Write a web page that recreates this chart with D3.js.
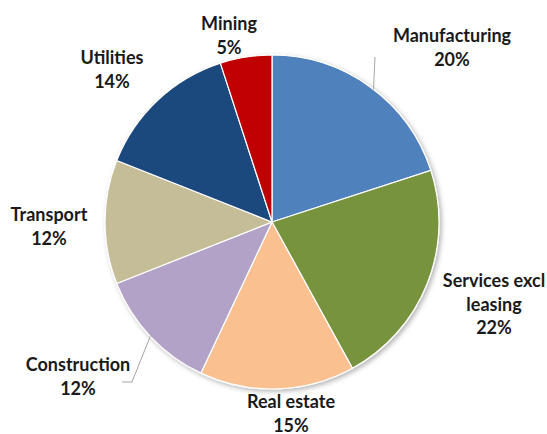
<!DOCTYPE html>
<html><head><meta charset="utf-8">
<script src="https://cdn.jsdelivr.net/npm/d3@7"></script>
<style>body{margin:0;background:#fff}svg{display:block}</style>
</head><body>
<script>
const categories = ["Manufacturing","Services excl leasing","Real estate","Construction","Transport","Utilities","Mining"];
const values = [20,22,15,12,12,14,5];
const colors = ["#4F81BD","#77933C","#FAC090","#B3A2C7","#C4BD97","#1F497D","#C00000"];
const labelLines = [["Manufacturing"],["Services excl","leasing"],["Real estate"],["Construction"],["Transport"],["Utilities"],["Mining"]];

const W=547,H=434,cx=272,cy=222,R=167;
const svg=d3.select("body").append("svg").attr("width",W).attr("height",H);
const defs=svg.append("defs");
const f=defs.append("filter").attr("id","sh").attr("x","-10%").attr("y","-10%").attr("width","130%").attr("height","130%");
f.append("feDropShadow").attr("dx",2).attr("dy",2).attr("stdDeviation",2.5).attr("flood-color","#000").attr("flood-opacity",0.3);

const pie=d3.pie().sort(null).value(d=>d)(values);
const arc=d3.arc().innerRadius(0).outerRadius(R);
const g=svg.append("g").attr("transform",`translate(${cx},${cy})`);
g.append("g").attr("filter","url(#sh)").selectAll("path").data(pie).join("path")
 .attr("d",arc).attr("fill",(d,i)=>colors[i]).attr("stroke","#fff").attr("stroke-width",1.2);

const pt=(a,r)=>[Math.sin(a)*r+cx,-Math.cos(a)*r+cy];
const lines=[
  {i:0, frac:0.52, pts:(p)=>[p,[375,57]]},
  {i:3, frac:0.5, pts:(p)=>[p,[132,382],[122,382]]}
];
lines.forEach(l=>{
  const d=pie[l.i]; const a=d.startAngle+(d.endAngle-d.startAngle)*l.frac;
  const p=pt(a,R);
  svg.append("path").attr("d",d3.line()(l.pts(p))).attr("fill","none").attr("stroke","#A6A6A6").attr("stroke-width",1);
});

const labelPos=[[452,42],[494,287],[291,408],[78,371],[49,221],[112,64],[229,30]];
const lh=23.5;
labelPos.forEach((p,i)=>{
  const t=svg.append("text").attr("text-anchor","middle").attr("font-family","Lato, 'Liberation Sans', sans-serif")
   .attr("font-weight","bold").attr("font-size",18).attr("fill","#1a1a1a");
  const ls=labelLines[i].concat([values[i]+"%"]);
  ls.forEach((s,k)=>t.append("tspan").attr("x",p[0]).attr("y",p[1]+k*lh).text(s));
});
</script>
</body></html>
